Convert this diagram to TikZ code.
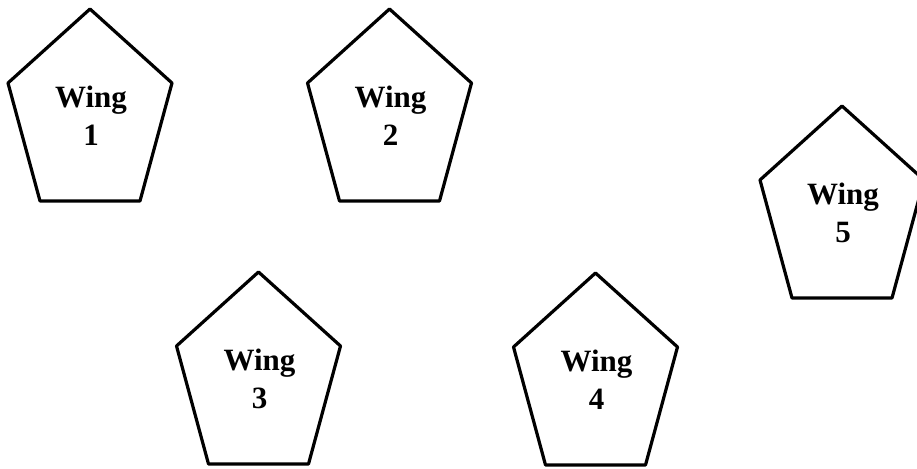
\documentclass[tikz,border=0pt]{standalone}
\usepackage{fontspec}
\setmainfont{Liberation Serif}
\usepackage{tikz}
\usetikzlibrary{calc}

\tikzset{
  wingedge/.style={line width=3.2pt, line join=round},
  winglabel/.style={align=center, inner sep=0pt, font=\bfseries\fontsize{31}{38}\selectfont}
}

% pentagon: #1 name, #2 centre x, #3 y of side corners, #4 label
\newcommand{\wingpent}[4]{%
  \coordinate (#1) at (#2,#3);
  \draw[wingedge] ($(#1)+(0,-74)$) -- ($(#1)+(82,0)$) -- ($(#1)+(50,118)$)
    -- ($(#1)+(-50,118)$) -- ($(#1)+(-82,0)$) -- cycle;
  \node[winglabel] (#1-text) at ($(#1)+(1,33)$) {Wing\\#4};
}

\begin{document}
\begin{tikzpicture}[x=1pt, y=-1pt]
  \useasboundingbox (0,0) rectangle (917,468);

  % upper row
  \wingpent{w1}{90}{83}{1}
  \wingpent{w2}{389.5}{83}{2}

  % right
  \wingpent{w5}{842}{180}{5}

  % lower row
  \wingpent{w3}{258.5}{346}{3}
  \wingpent{w4}{595.5}{347}{4}
\end{tikzpicture}
\end{document}
